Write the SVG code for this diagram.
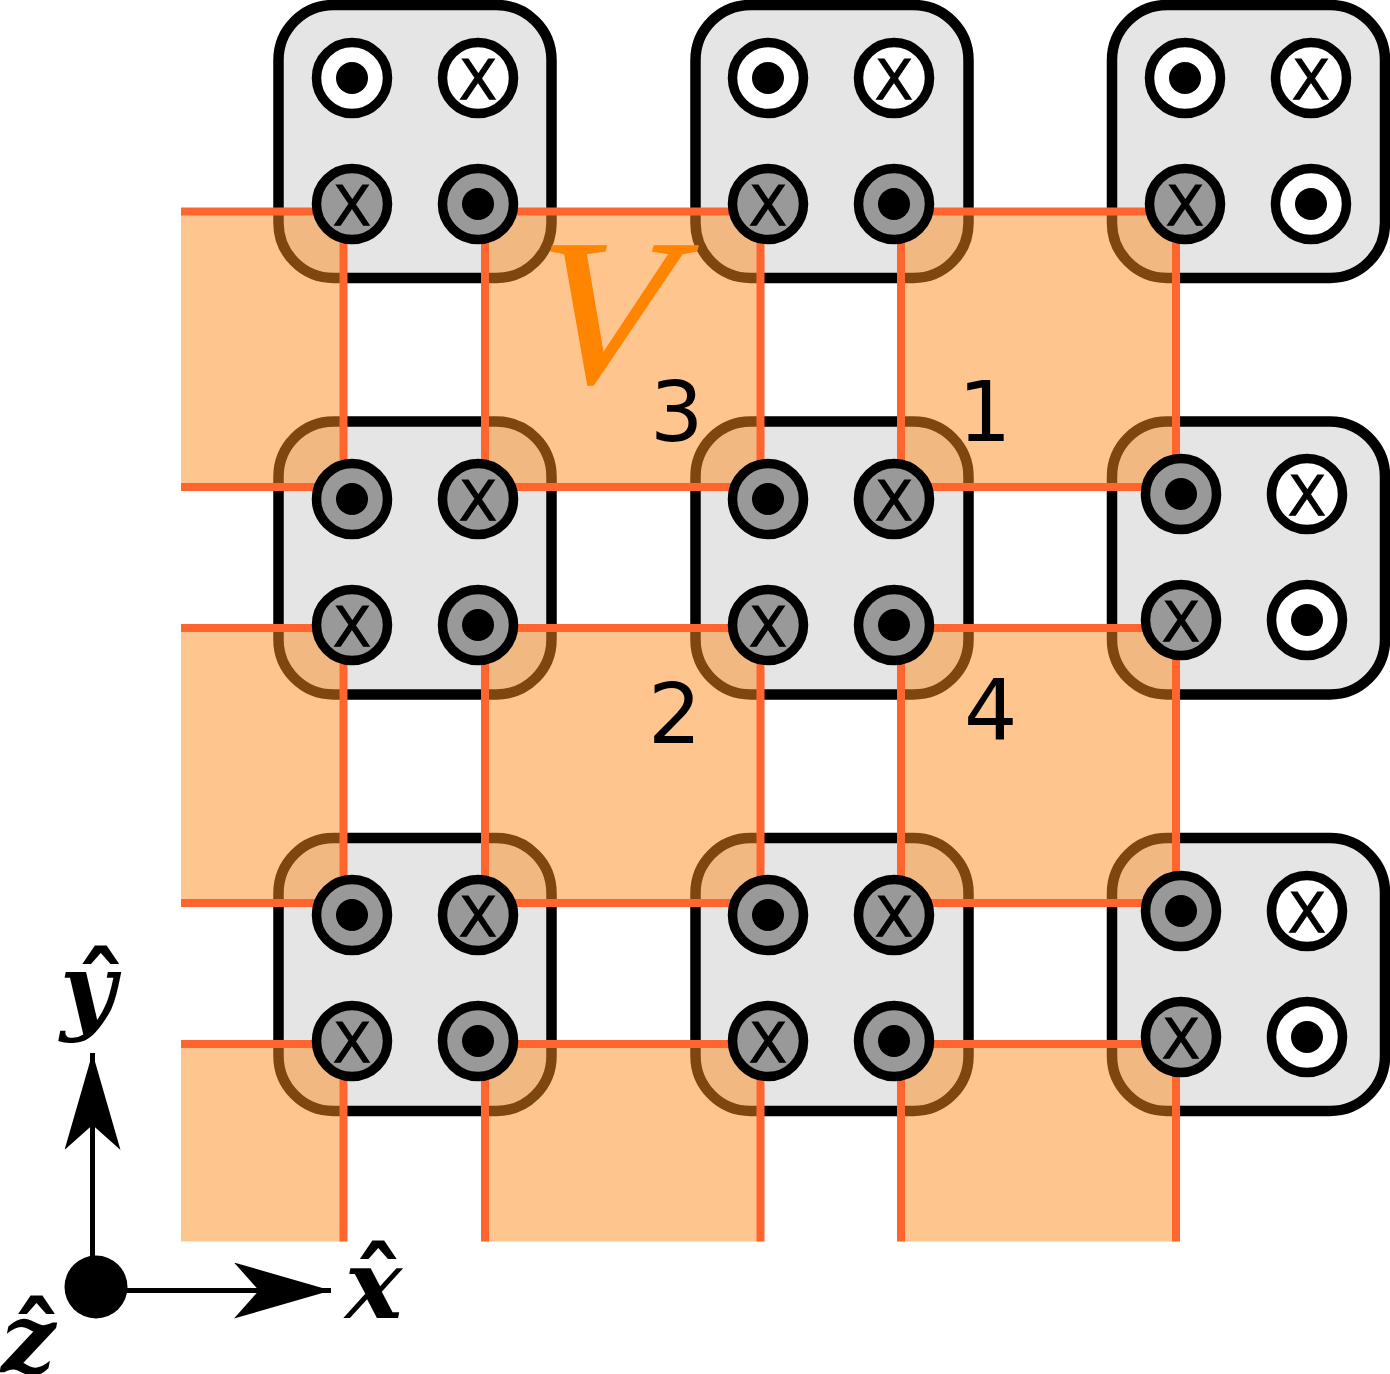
<svg xmlns="http://www.w3.org/2000/svg" width="1390" height="1374" viewBox="0 0 1390 1374">
  <style>
    .box { fill: #e5e5e5; stroke: #000; stroke-width: 10.500; }
    .ring { stroke: #000; stroke-width: 9.500; }
    .off { fill: #fff; }
    .on { fill: #999; }
    .dot { fill: #000; }
    .cross { font-family: "DejaVu Sans", "Liberation Sans", sans-serif; font-size: 56px; text-anchor: middle; fill: #000; stroke: #000; stroke-width: 1; }
    .gate { fill: #ff8c20; fill-opacity: 0.5; }
    .wire { stroke: #ff652c; stroke-width: 8; fill: none; }
    .digit { font-family: "DejaVu Sans", sans-serif; font-size: 84px; fill: #000; }
    .math { font-family: "DejaVu Serif", serif; font-style: italic; font-weight: bold; font-size: 96px; fill: #000; }
    .hat { font-family: "DejaVu Sans", sans-serif; font-style: normal; font-weight: bold; font-size: 100px; }
    .axis { stroke: #000; stroke-width: 5; fill: none; }
  </style>
  <defs>
    <marker id="head" markerUnits="userSpaceOnUse" markerWidth="100" markerHeight="60" refX="97" refY="28" orient="auto">
      <path d="M0 0L97 28L0 56L25 28Z" fill="#000"/>
    </marker>
    <g id="dotmark"><circle class="dot" r="16"/></g>
  </defs>

  <!-- Square modules -->
  <g id="modules">
    <g id="module-r1c1"><rect class="box" x="278.500" y="5" width="273" height="273" rx="55"/></g>
    <g id="module-r1c2"><rect class="box" x="695.500" y="5" width="273" height="273" rx="55"/></g>
    <g id="module-r1c3"><rect class="box" x="1112" y="5" width="273" height="273" rx="55"/></g>
    <g id="module-r2c1"><rect class="box" x="278.500" y="421.500" width="273" height="273" rx="55"/></g>
    <g id="module-r2c2"><rect class="box" x="695.500" y="421.500" width="273" height="273" rx="55"/></g>
    <g id="module-r2c3"><rect class="box" x="1112" y="421.500" width="273" height="273" rx="55"/></g>
    <g id="module-r3c1"><rect class="box" x="278.500" y="838" width="273" height="273" rx="55"/></g>
    <g id="module-r3c2"><rect class="box" x="695.500" y="838" width="273" height="273" rx="55"/></g>
    <g id="module-r3c3"><rect class="box" x="1112" y="838" width="273" height="273" rx="55"/></g>
  </g>

  <!-- Gate regions and their wiring -->
  <g id="connectors">
    <rect class="gate" x="181" y="211.500" width="162" height="275.500"/>
    <rect class="gate" x="485" y="211.500" width="275.500" height="275.500"/>
    <rect class="gate" x="901" y="211.500" width="275" height="275.500"/>
    <rect class="gate" x="181" y="628" width="162" height="275"/>
    <rect class="gate" x="485" y="628" width="275.500" height="275"/>
    <rect class="gate" x="901" y="628" width="275" height="275"/>
    <rect class="gate" x="181" y="1044" width="162" height="197.500"/>
    <rect class="gate" x="485" y="1044" width="275.500" height="197.500"/>
    <rect class="gate" x="901" y="1044" width="275" height="197.500"/>
    <path class="wire" d="M181 211.500H320M510 211.500H735M925 211.500H1150M181 487H320M510 487H735M925 487H1150M181 628H320M510 628H735M925 628H1150M181 903H320M510 903H735M925 903H1150M181 1044H320M510 1044H735M925 1044H1150"/>
    <path class="wire" d="M343.500 230V470M485 230V470M760.500 230V470M901 230V470M1176 230V470M343.500 650V890M485 650V890M760.500 650V890M901 650V890M1176 650V890M343.500 1066V1241.500M485 1066V1241.500M760.500 1066V1241.500M901 1066V1241.500M1176 1066V1241.500"/>
  </g>

  <!-- Terminals: a dot marks one sense, a cross the other -->
  <g id="terminals-r1c1">
    <circle class="ring off" cx="352" cy="78" r="35.500"/><use href="#dotmark" x="352" y="78"/>
    <circle class="ring off" cx="478" cy="78" r="35.500"/><text class="cross" x="478" y="98.500">X</text>
    <circle class="ring on" cx="352" cy="204" r="35.500"/><text class="cross" x="352" y="224.500">X</text>
    <circle class="ring on" cx="478" cy="204" r="35.500"/><use href="#dotmark" x="478" y="204"/>
  </g>
  <g id="terminals-r1c2">
    <circle class="ring off" cx="768" cy="78" r="35.500"/><use href="#dotmark" x="768" y="78"/>
    <circle class="ring off" cx="894" cy="78" r="35.500"/><text class="cross" x="894" y="98.500">X</text>
    <circle class="ring on" cx="768" cy="204" r="35.500"/><text class="cross" x="768" y="224.500">X</text>
    <circle class="ring on" cx="894" cy="204" r="35.500"/><use href="#dotmark" x="894" y="204"/>
  </g>
  <g id="terminals-r1c3">
    <circle class="ring off" cx="1185" cy="78" r="35.500"/><use href="#dotmark" x="1185" y="78"/>
    <circle class="ring off" cx="1311" cy="78" r="35.500"/><text class="cross" x="1311" y="98.500">X</text>
    <circle class="ring on" cx="1185" cy="204" r="35.500"/><text class="cross" x="1185" y="224.500">X</text>
    <circle class="ring off" cx="1311" cy="204" r="35.500"/><use href="#dotmark" x="1311" y="204"/>
  </g>
  <g id="terminals-r2c1">
    <circle class="ring on" cx="352" cy="499" r="35.500"/><use href="#dotmark" x="352" y="499"/>
    <circle class="ring on" cx="478" cy="499" r="35.500"/><text class="cross" x="478" y="519.500">X</text>
    <circle class="ring on" cx="352" cy="625" r="35.500"/><text class="cross" x="352" y="645.500">X</text>
    <circle class="ring on" cx="478" cy="625" r="35.500"/><use href="#dotmark" x="478" y="625"/>
  </g>
  <g id="terminals-r2c2">
    <circle class="ring on" cx="768" cy="499" r="35.500"/><use href="#dotmark" x="768" y="499"/>
    <circle class="ring on" cx="894" cy="499" r="35.500"/><text class="cross" x="894" y="519.500">X</text>
    <circle class="ring on" cx="768" cy="625" r="35.500"/><text class="cross" x="768" y="645.500">X</text>
    <circle class="ring on" cx="894" cy="625" r="35.500"/><use href="#dotmark" x="894" y="625"/>
  </g>
  <g id="terminals-r2c3">
    <circle class="ring on" cx="1181" cy="494" r="35.500"/><use href="#dotmark" x="1181" y="494"/>
    <circle class="ring off" cx="1307" cy="494" r="35.500"/><text class="cross" x="1307" y="514.500">X</text>
    <circle class="ring on" cx="1181" cy="620" r="35.500"/><text class="cross" x="1181" y="640.500">X</text>
    <circle class="ring off" cx="1307" cy="620" r="35.500"/><use href="#dotmark" x="1307" y="620"/>
  </g>
  <g id="terminals-r3c1">
    <circle class="ring on" cx="352" cy="915" r="35.500"/><use href="#dotmark" x="352" y="915"/>
    <circle class="ring on" cx="478" cy="915" r="35.500"/><text class="cross" x="478" y="935.500">X</text>
    <circle class="ring on" cx="352" cy="1041" r="35.500"/><text class="cross" x="352" y="1061.500">X</text>
    <circle class="ring on" cx="478" cy="1041" r="35.500"/><use href="#dotmark" x="478" y="1041"/>
  </g>
  <g id="terminals-r3c2">
    <circle class="ring on" cx="768" cy="915" r="35.500"/><use href="#dotmark" x="768" y="915"/>
    <circle class="ring on" cx="894" cy="915" r="35.500"/><text class="cross" x="894" y="935.500">X</text>
    <circle class="ring on" cx="768" cy="1041" r="35.500"/><text class="cross" x="768" y="1061.500">X</text>
    <circle class="ring on" cx="894" cy="1041" r="35.500"/><use href="#dotmark" x="894" y="1041"/>
  </g>
  <g id="terminals-r3c3">
    <circle class="ring on" cx="1181" cy="911" r="35.500"/><use href="#dotmark" x="1181" y="911"/>
    <circle class="ring off" cx="1307" cy="911" r="35.500"/><text class="cross" x="1307" y="931.500">X</text>
    <circle class="ring on" cx="1181" cy="1037" r="35.500"/><text class="cross" x="1181" y="1057.500">X</text>
    <circle class="ring off" cx="1307" cy="1037" r="35.500"/><use href="#dotmark" x="1307" y="1037"/>
  </g>

  <!-- Labels -->
  <g id="labels">
    <text class="digit" x="650" y="441">3</text>
    <text class="digit" x="958" y="441">1</text>
    <text class="digit" x="648" y="743">2</text>
    <text class="digit" x="964" y="739">4</text>
    <text transform="translate(530 382) skewX(-4) scale(1.08 1)" font-family="Liberation Serif, serif" font-style="italic" font-size="208" fill="#ff8400" stroke="#ff8400" stroke-width="1">V</text>
  </g>

  <!-- Coordinate axes -->
  <g id="axes">
    <path class="axis" d="M92.500 1290V1053" marker-end="url(#head)"/>
    <path class="axis" d="M96 1290.500H331" marker-end="url(#head)"/>
    <circle cx="96" cy="1287" r="31.500" fill="#000"/>
    <text class="math" x="60" y="1022">y<tspan class="hat" dx="-40" dy="4">ˆ</tspan></text>
    <text class="math" x="345" y="1318">x<tspan class="hat" dx="-49" dy="3">ˆ</tspan></text>
    <text class="math" x="1" y="1372">z<tspan class="hat" dx="-44" dy="4">ˆ</tspan></text>
  </g>
</svg>
